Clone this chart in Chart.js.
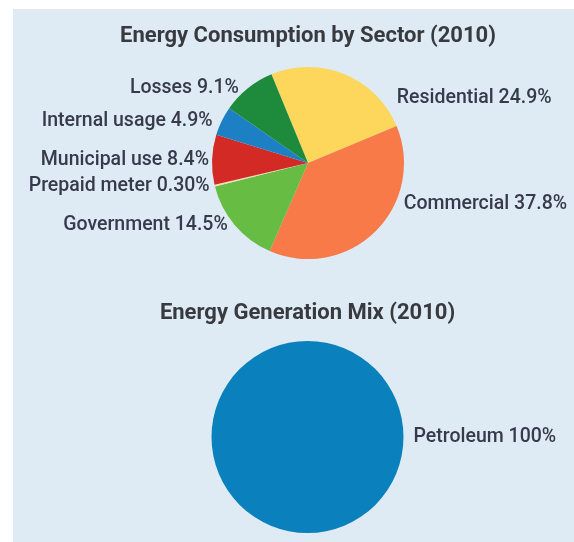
<!DOCTYPE html>
<html>
<head>
<meta charset="utf-8">
<script src="https://cdn.jsdelivr.net/npm/chart.js@4.4.1/dist/chart.umd.min.js"></script>
<style>
  html, body { margin: 0; padding: 0; background: #ffffff; width: 574px; height: 542px; overflow: hidden; }
  #panel { position: absolute; left: 13px; top: 9px; width: 561px; height: 533px; background: #deebf5; }
  .box { position: absolute; }
  #box1 { left: 13px; top: 9px; width: 561px; height: 250px; }
  #box2 { left: 13px; top: 270px; width: 561px; height: 263px; }
</style>
</head>
<body>
<div id="panel"></div>
<div class="box" id="box1"><canvas id="c1"></canvas></div>
<div class="box" id="box2"><canvas id="c2"></canvas></div>
<script>
// ---- Data ----
const sectorTitle = 'Energy Consumption by Sector (2010)';
const sectorLabels = ['Residential', 'Commercial', 'Government', 'Prepaid meter', 'Municipal use', 'Internal usage', 'Losses'];
const sectorValues = [24.9, 37.8, 14.5, 0.3, 8.4, 4.9, 9.1];
const sectorPctText = ['24.9%', '37.8%', '14.5%', '0.30%', '8.4%', '4.9%', '9.1%'];

const genTitle = 'Energy Generation Mix (2010)';
const genLabels = ['Petroleum'];
const genValues = [100];
const genPctText = ['100%'];

// ---- Styles ----
const sectorColors = ['#fdd75b', '#f77a48', '#67bc44', '#f3dfb0', '#d32a26', '#1d80c4', '#1e8a3b'];
const genColors = ['#0a80bc'];
const textColor = '#373a48';
const fontFamily = 'Roboto, "Noto Sans", sans-serif';

const outsideLabels = {
  id: 'outsideLabels',
  afterDatasetsDraw(chart, args, opts) {
    const ctx = chart.ctx;
    const meta = chart.getDatasetMeta(0);
    const texts = opts.texts || [];
    const nudges = opts.nudges || [];
    const pads = opts.pads || [];
    ctx.save();
    ctx.font = opts.font;
    ctx.fillStyle = opts.color;
    ctx.textBaseline = 'middle';
    meta.data.forEach((arc, i) => {
      const p = arc.getProps(['x', 'y', 'startAngle', 'endAngle', 'outerRadius'], true);
      const a = (p.startAngle + p.endAngle) / 2 + (nudges[i] || 0) * Math.PI / 180;
      const px = p.x + Math.cos(a) * p.outerRadius;
      const py = p.y + Math.sin(a) * p.outerRadius;
      const pad = pads[i] != null ? pads[i] : 7;
      const label = chart.data.labels[i] + ' ' + texts[i];
      if (Math.cos(a) >= 0) {
        ctx.textAlign = 'left';
        ctx.fillText(label, px + pad, py);
      } else {
        ctx.textAlign = 'right';
        ctx.fillText(label, px - pad, py);
      }
    });
    ctx.restore();
  }
};

function makePie(id, title, labels, values, colors, rotation, texts, nudges, pads, titlePad, padLeft) {
  return new Chart(document.getElementById(id), {
    type: 'pie',
    data: {
      labels: labels,
      datasets: [{ data: values, backgroundColor: colors, borderWidth: 0 }]
    },
    options: {
      responsive: true,
      maintainAspectRatio: false,
      animation: false,
      rotation: rotation,
      layout: { padding: { left: padLeft, right: 0, top: 0, bottom: 0 } },
      plugins: {
        legend: { display: false },
        tooltip: { enabled: false },
        title: {
          display: true,
          text: title,
          color: '#383a40',
          font: { family: fontFamily, size: 22, weight: 'bold', lineHeight: 1.2 },
          padding: titlePad
        },
        outsideLabels: {
          texts: texts,
          nudges: nudges,
          pads: pads,
          font: '500 19.5px ' + fontFamily,
          color: textColor
        }
      }
    },
    plugins: [outsideLabels]
  });
}

makePie('c1', sectorTitle, sectorLabels, sectorValues, sectorColors, -22.4, sectorPctText,
  [25, -20, 0, 0, 0, 0, 0], [18, 9, 7, 5, 3, 9, 9], { top: 13.8, bottom: 17.8 }, 29);
makePie('c2', genTitle, genLabels, genValues, genColors, -90, genPctText,
  [0], [10], { top: 29.8, bottom: 14.8 }, 28);
</script>
</body>
</html>
